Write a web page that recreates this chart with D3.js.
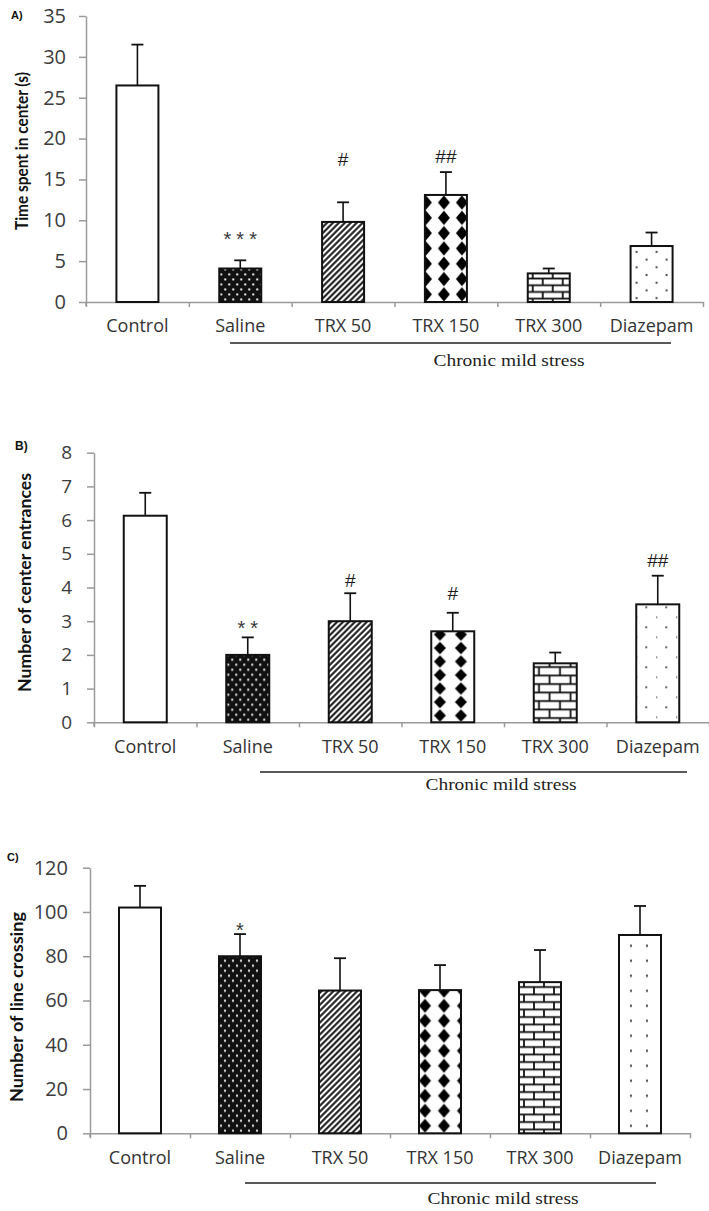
<!DOCTYPE html>
<html><head><meta charset="utf-8">
<script src="https://cdn.jsdelivr.net/npm/d3@7"></script>
<style>body{margin:0;background:#fff}svg{display:block}</style>
</head><body><svg id="c" width="709" height="1211"></svg>
<script>
// ---------- data ----------
const categories = ["Control", "Saline", "TRX 50", "TRX 150", "TRX 300", "Diazepam"];
const groupLabel = "Chronic mild stress";

const timeMean = [26.5, 4.1, 9.8, 13.1, 3.5, 6.85];
const timeSem  = [5.0, 1.0, 2.4, 2.8, 0.6, 1.65];
const timeMarks = ["", "***", "#", "##", "", ""];
const timeMarkLevel = [0, 6.8, 16.6, 17.0, 0, 0];
const timeTicks = [0, 5, 10, 15, 20, 25, 30, 35];

const entrMean = [6.13, 2.0, 3.0, 2.7, 1.75, 3.5];
const entrSem  = [0.68, 0.52, 0.83, 0.55, 0.32, 0.85];
const entrMarks = ["", "**", "#", "#", "", "##"];
const entrMarkLevel = [0, 2.58, 4.01, 3.63, 0, 4.61];
const entrTicks = [0, 1, 2, 3, 4, 5, 6, 7, 8];

const crossMean = [102, 80, 64.5, 64.7, 68.3, 89.6];
const crossSem  = [9.8, 10, 14.6, 11.3, 14.5, 13.1];
const crossMarks = ["", "*", "", "", "", ""];
const crossMarkLevel = [0, 88.8, 0, 0, 0, 0];
const crossTicks = [0, 20, 40, 60, 80, 100, 120];

const fills = ["none", "dots", "stripes", "diamonds", "bricks", "sparse"];

// ---------- layout ----------
const panels = [
  {label: "A)", title: "Time spent in center (s)", mean: timeMean, sem: timeSem, marks: timeMarks, markLevel: timeMarkLevel,
   ticks: timeTicks, max: 35, x0: 86, x1: 703, yTop: 16, yBot: 302, barW: 42, tickPad: 13, tickFs: 20,
   lab: [11, 19, 11], titleX: 22, titleY: 151, titleLen: 158, xlabY: 332,
   lineY: 343, lineX0: 230, lineX1: 671, stressX: 509, stressY: 366,
   dia: {w: 18, h: 15.3, off: 1}, brick: {w: 20, h: 6.7}, sparse: {w: 20, h: 15.4, a: [16, 3.85], b: [6, 11.55]}},
  {label: "B)", title: "Number of center entrances", mean: entrMean, sem: entrSem, marks: entrMarks, markLevel: entrMarkLevel,
   ticks: entrTicks, max: 8, x0: 94, x1: 709, yTop: 452.7, yBot: 722.3, barW: 43, tickPad: 15, tickFs: 19,
   lab: [15, 450, 12], titleX: 25, titleY: 582.5, titleLen: 219, xlabY: 753,
   lineY: 772, lineX0: 260, lineX1: 687, stressX: 501, stressY: 790,
   dia: {w: 21, h: 13.5, off: 8.7}, brick: {w: 21, h: 8.5}, sparse: {w: 20, h: 20, a: [10, 5], b: [20, 15]}},
  {label: "C)", title: "Number of line  crossing", mean: crossMean, sem: crossSem, marks: crossMarks, markLevel: crossMarkLevel,
   ticks: crossTicks, max: 120, x0: 90, x1: 690, yTop: 867.7, yBot: 1133.3, barW: 42, tickPad: 15, tickFs: 20,
   lab: [7, 861, 11], titleX: 17, titleY: 1007, titleLen: 190, xlabY: 1164,
   lineY: 1183, lineX0: 245, lineX1: 656, stressX: 503, stressY: 1204,
   dia: {w: 19, h: 15, off: 6}, brick: {w: 20, h: 7.5}, sparse: {w: 16, h: 15, a: [12, 7.5], b: [12, 7.5]}}
];

const axisColor = "#9a9a9a";
const svg = d3.select("#c");
const defs = svg.append("defs");

function makePattern(id, type, bx, by, P) {
  const p = defs.append("pattern").attr("id", id).attr("patternUnits", "userSpaceOnUse");
  if (type === "none") {
    p.attr("width", 10).attr("height", 10);
    p.append("rect").attr("width", 10).attr("height", 10).attr("fill", "#fff");
  } else if (type === "dots") {
    p.attr("width", 8).attr("height", 10).attr("patternTransform", `translate(${bx},${by})`);
    p.append("rect").attr("width", 8).attr("height", 10).attr("fill", "#111");
    [[2, 2.5], [6, 7.5]].forEach(d => p.append("circle").attr("cx", d[0]).attr("cy", d[1]).attr("r", 1.15).attr("fill", "#e8e8e8"));
  } else if (type === "stripes") {
    p.attr("width", 4.2).attr("height", 10).attr("patternTransform", `translate(${bx},${by}) rotate(45)`);
    p.append("rect").attr("width", 4.2).attr("height", 10).attr("fill", "#fff");
    p.append("line").attr("x1", 2.1).attr("x2", 2.1).attr("y1", 0).attr("y2", 10).attr("stroke", "#111").attr("stroke-width", 2);
  } else if (type === "diamonds") {
    const w = P.dia.w, h = P.dia.h, c = w / 2, hw = 6;
    p.attr("width", w).attr("height", h).attr("patternTransform", `translate(${bx + P.dia.off - c},${by})`);
    p.append("rect").attr("width", w).attr("height", h).attr("fill", "#fff");
    p.append("polygon").attr("points", `${c - hw},${h / 2} ${c},0.5 ${c + hw},${h / 2} ${c},${h - 0.5}`).attr("fill", "#000");
  } else if (type === "bricks") {
    const w = P.brick.w, h = P.brick.h;
    p.attr("width", w).attr("height", 2 * h).attr("patternTransform", `translate(${bx},${by})`);
    p.append("rect").attr("width", w).attr("height", 2 * h).attr("fill", "#fff");
    const ln = (x1, y1, x2, y2) => p.append("line").attr("x1", x1).attr("y1", y1).attr("x2", x2).attr("y2", y2)
      .attr("stroke", "#111").attr("stroke-width", 1.8);
    ln(0, h * 0.5, w, h * 0.5);
    ln(0, h * 1.5, w, h * 1.5);
    ln(w * 0.75, h * 0.5, w * 0.75, h * 1.5);
    ln(w * 0.25, h * 1.5, w * 0.25, 2 * h);
    ln(w * 0.25, 0, w * 0.25, h * 0.5);
  } else if (type === "sparse") {
    const S = P.sparse;
    p.attr("width", S.w).attr("height", S.h).attr("patternTransform", `translate(${bx},${by})`);
    p.append("rect").attr("width", S.w).attr("height", S.h).attr("fill", "#fff");
    [S.a, S.b].forEach(d => p.append("circle").attr("cx", d[0] % S.w).attr("cy", d[1]).attr("r", 1.1).attr("fill", "#444"));
  }
}

panels.forEach((P, pi) => {
  const g = svg.append("g");
  const y = d3.scaleLinear().domain([0, P.max]).range([P.yBot, P.yTop]);
  const xb = d3.scaleBand().domain(categories).range([P.x0, P.x1]);
  const xi = d3.scaleLinear().domain([0, categories.length]).range([P.x0, P.x1]);

  // y axis
  const ya = g.append("g").attr("transform", `translate(${P.x0},0)`)
    .call(d3.axisLeft(y).tickValues(P.ticks).tickSize(7).tickSizeOuter(0).tickPadding(P.tickPad));
  ya.select(".domain").attr("stroke", axisColor).attr("stroke-width", 1.5);
  ya.selectAll(".tick line").attr("stroke", axisColor).attr("stroke-width", 1.5);
  ya.selectAll(".tick text").attr("fill", "#3c3c3c")
    .style("font-family", "'Open Sans', sans-serif").style("font-size", P.tickFs + "px");
  g.append("line").attr("x1", P.x0).attr("x2", P.x0).attr("y1", P.yBot).attr("y2", P.yBot + 4)
    .attr("stroke", axisColor).attr("stroke-width", 1.5);

  // x axis (ticks at category boundaries)
  const xa = g.append("g").attr("transform", `translate(0,${P.yBot})`)
    .call(d3.axisBottom(xi).tickValues(d3.range(0, categories.length + 1)).tickSize(5).tickSizeOuter(0).tickFormat(""));
  xa.select(".domain").attr("stroke", axisColor).attr("stroke-width", 1.5);
  xa.selectAll(".tick line").attr("stroke", axisColor).attr("stroke-width", 1.5);

  // bars
  categories.forEach((c, i) => {
    const bx = xb(c) + (xb.bandwidth() - P.barW) / 2;
    const cx = bx + P.barW / 2;
    const id = `pat${pi}_${i}`;
    makePattern(id, fills[i], bx, P.yBot, P);
    const top = y(P.mean[i]);
    const etop = y(P.mean[i] + P.sem[i]);
    g.append("line").attr("x1", cx).attr("x2", cx).attr("y1", top).attr("y2", etop)
      .attr("stroke", "#111").attr("stroke-width", 1.6);
    g.append("line").attr("x1", cx - 6).attr("x2", cx + 6).attr("y1", etop).attr("y2", etop)
      .attr("stroke", "#111").attr("stroke-width", 1.8);
    g.append("rect").attr("x", bx).attr("y", top).attr("width", P.barW).attr("height", P.yBot - top)
      .attr("fill", `url(#${id})`).attr("stroke", "#111").attr("stroke-width", 2);

    // significance marks
    const m = P.marks[i];
    if (m) {
      const star = m.includes("*");
      g.append("text").attr("x", cx + (star ? 2.5 : 0)).attr("y", y(P.markLevel[i]))
        .attr("text-anchor", "middle")
        .style("font-family", "'Liberation Sans', Arial, sans-serif")
        .style("font-size", star ? "20px" : "19px")
        .style("letter-spacing", star ? "5px" : "0px")
        .attr("fill", star ? "#3a3a3a" : "#1a1a1a")
        .text(m);
    }

    // category label
    g.append("text").attr("x", cx).attr("y", P.xlabY).attr("text-anchor", "middle")
      .style("font-family", "'Open Sans', sans-serif").style("font-size", "18px").attr("fill", "#333")
      .text(c);
  });

  // group line + label
  g.append("line").attr("x1", P.lineX0).attr("x2", P.lineX1).attr("y1", P.lineY).attr("y2", P.lineY)
    .attr("stroke", "#222").attr("stroke-width", 1.6);
  g.append("text").attr("x", P.stressX).attr("y", P.stressY).attr("text-anchor", "middle")
    .style("font-family", "'Liberation Serif', 'Times New Roman', serif").style("font-size", "17px").attr("fill", "#222")
    .attr("textLength", 151).attr("lengthAdjust", "spacingAndGlyphs")
    .text(groupLabel);

  // y title
  g.append("text").attr("transform", `translate(${P.titleX},${P.titleY}) rotate(-90)`)
    .attr("text-anchor", "middle").attr("dy", "0.35em")
    .style("font-family", "Lato, 'Open Sans', sans-serif").style("font-weight", "bold").style("font-size", "16.5px")
    .attr("fill", "#111")
    .attr("textLength", P.titleLen).attr("lengthAdjust", "spacingAndGlyphs")
    .text(P.title);

  // panel label
  g.append("text").attr("x", P.lab[0]).attr("y", P.lab[1])
    .style("font-family", "'Liberation Sans', Arial, sans-serif").style("font-weight", "bold")
    .style("font-size", P.lab[2] + "px").attr("fill", "#111").text(P.label);
});
</script>
</body></html>
